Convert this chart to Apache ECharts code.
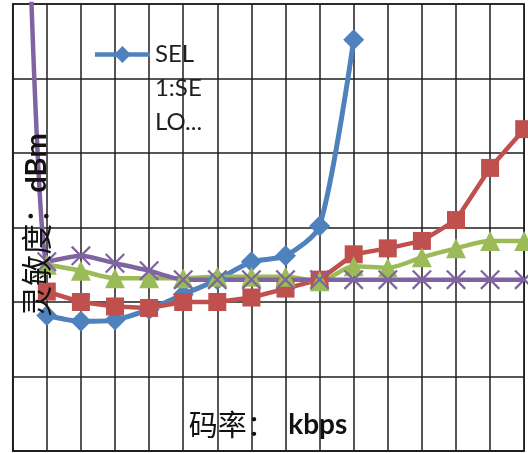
<!DOCTYPE html>
<html>
<head>
<meta charset="utf-8">
<script src="https://cdn.jsdelivr.net/npm/echarts@6/dist/echarts.min.js"></script>
<style>
  html, body { margin: 0; padding: 0; background: #ffffff; }
  #chart { width: 528px; height: 453px; }
</style>
</head>
<body>
<div id="chart"></div>
<script>
// Bit-rate categories along the x axis (labels are not printed on this view)
const rateLabels = ['1', '2', '3', '4', '5', '6', '7', '8', '9', '10', '11', '12', '13', '14', '15', '16'];

// Series names; only the first one appears in the legend
const seriesNames = ['SEL\n1:SE\nLO...', 'SEL 2', 'SEL 3', 'SEL 4'];

// Sensitivity readings in dBm, one entry per bit-rate category
const selBlue   = [null, -115.9, -116.3, -116.2, -115.5, -114.5, -113.5, -112.3, -111.9, -109.9, -97.4];
const selRed    = [null, -114.3, -115.0, -115.3, -115.4, -115.0, -115.0, -114.7, -114.1, -113.5, -111.8, -111.4, -110.9, -109.5, -106.0, -103.4];
const selGreen  = [null, -112.5, -112.9, -113.4, -113.4, -113.4, -113.3, -113.3, -113.3, -113.6, -112.6, -112.7, -112.0, -111.4, -110.9, -110.9];
const selPurple = [-50.0, -112.3, -111.9, -112.4, -112.9, -113.5, -113.5, -113.5, -113.5, -113.5, -113.5, -113.5, -113.5, -113.5, -113.5, -113.5];

// Axis titles
const xTitleCn = '码率： ';
const xTitleUnit = 'kbps';
const yTitleCn = '灵敏度：';
const yTitleUnit = 'dBm';

// Cross-shaped marker built from two filled bars
const crossSymbol = 'path://M0,1.6 L1.6,0 L20,18.4 L18.4,20 Z M18.4,0 L20,1.6 L1.6,20 L0,18.4 Z';

const gridColor = '#1e1e1e';
const cjkFont = '"Noto Sans CJK SC", sans-serif';
const latinFont = 'Lato, "Noto Sans CJK SC", sans-serif';

const chart = echarts.init(document.getElementById('chart'), null, { renderer: 'canvas' });

function lineSeries(name, data, color, symbol, size, width, smooth) {
  return {
    name: name,
    type: 'line',
    data: data,
    smooth: smooth,
    symbol: symbol,
    symbolSize: size,
    showAllSymbol: true,
    clip: true,
    lineStyle: { color: color, width: width },
    itemStyle: { color: color, borderWidth: 0 },
    emphasis: { disabled: true },
    animation: false
  };
}

chart.setOption({
  backgroundColor: '#ffffff',
  animation: false,
  grid: {
    left: 12.7, right: 3.8, top: 4, bottom: 2,
    show: true, borderColor: gridColor, borderWidth: 1.5,
    containLabel: false
  },
  legend: {
    data: [seriesNames[0]],
    left: 92.7,
    top: -30.5,
    padding: 0,
    itemWidth: 55,
    itemHeight: 21,
    lineStyle: { width: 4.5 },
    // two blank lines above keep the marker level with the first text line
    formatter: function (name) { return '\n\n' + name; },
    textStyle: {
      fontFamily: latinFont,
      fontSize: 24,
      lineHeight: 34,
      color: '#1f1f1f'
    }
  },
  xAxis: {
    type: 'category',
    data: rateLabels,
    boundaryGap: false,
    axisLabel: { show: false },
    axisTick: { show: false },
    axisLine: { show: true, lineStyle: { color: gridColor, width: 1.5 } },
    splitLine: { show: true, lineStyle: { color: gridColor, width: 1.5 } }
  },
  yAxis: {
    type: 'value',
    min: -125,
    max: -95,
    interval: 5,
    axisLabel: { show: false },
    axisTick: { show: false },
    axisLine: { show: true, lineStyle: { color: gridColor, width: 1.5 } },
    splitLine: { show: true, lineStyle: { color: gridColor, width: 1.5 } }
  },
  series: [
    lineSeries(seriesNames[0], selBlue, '#4f81bd', 'diamond', 21, 5, 0.25),
    lineSeries(seriesNames[1], selRed, '#c0504d', 'rect', 18, 4.5, false),
    lineSeries(seriesNames[2], selGreen, '#9bbb59', 'triangle', 20, 4.5, 0.3),
    lineSeries(seriesNames[3], selPurple, '#8064a2', crossSymbol, 20, 4.5, 0.2)
  ],
  graphic: [
    {
      type: 'text',
      z: 100,
      x: 268,
      y: 425,
      style: {
        text: '{c|' + xTitleCn + '}{u|' + xTitleUnit + '}',
        align: 'center',
        verticalAlign: 'middle',
        fill: '#111',
        rich: {
          c: { fontFamily: cjkFont, fontSize: 29, fill: '#111' },
          u: { fontFamily: latinFont, fontSize: 28, fontWeight: 'bold', fill: '#111', padding: [0, 0, 0, 6] }
        }
      }
    },
    {
      type: 'text',
      z: 100,
      x: 36.5,
      y: 225,
      rotation: Math.PI / 2,
      style: {
        text: '{c|' + yTitleCn + '}{u|' + yTitleUnit + '}',
        align: 'center',
        verticalAlign: 'middle',
        fill: '#111',
        rich: {
          c: { fontFamily: cjkFont, fontSize: 31, fill: '#111' },
          u: { fontFamily: latinFont, fontSize: 29, fontWeight: 'bold', fill: '#111' }
        }
      }
    }
  ]
});
</script>
</body>
</html>
